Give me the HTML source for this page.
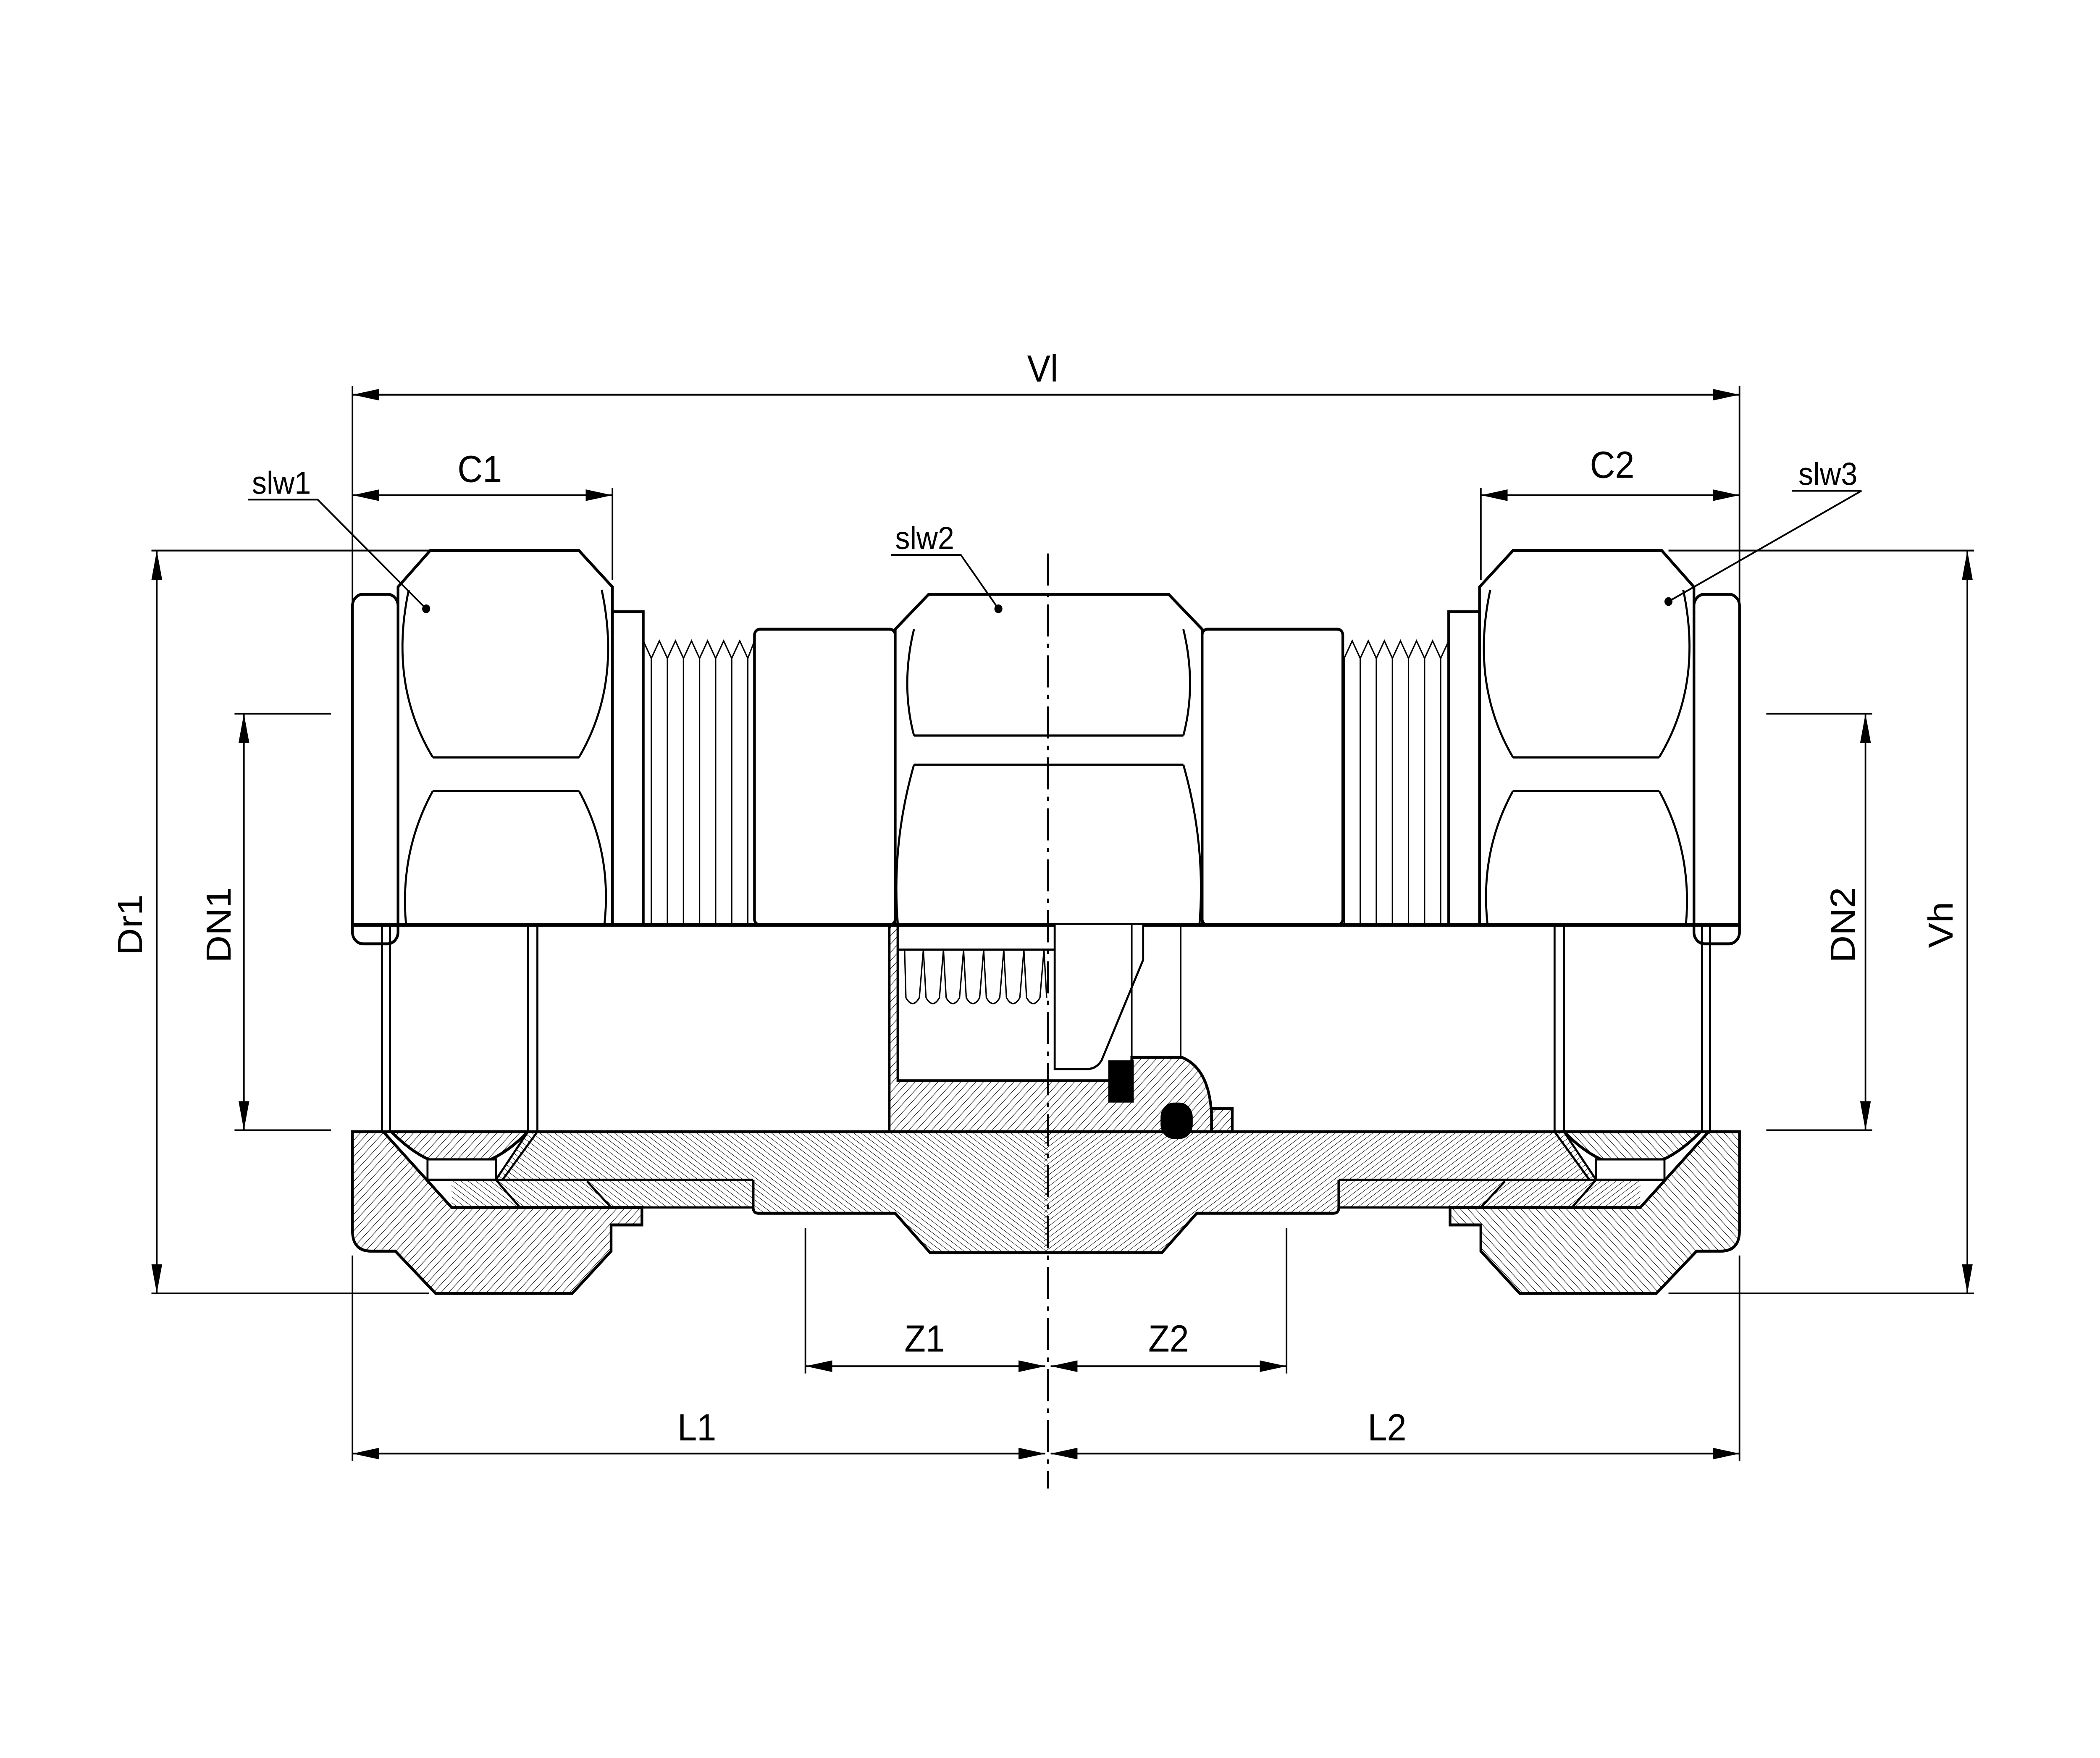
<!DOCTYPE html>
<html><head><meta charset="utf-8"><style>html,body{margin:0;padding:0;background:#fff;overflow:hidden}svg{display:block;width:100vw;height:100vh}</style></head>
<body>
<svg viewBox="0 0 1567 1207" preserveAspectRatio="none" xmlns="http://www.w3.org/2000/svg" font-family="Liberation Sans, sans-serif">
<defs>
<pattern id="h" width="4" height="4" patternUnits="userSpaceOnUse" patternTransform="rotate(45)"><line x1="0" y1="0" x2="0" y2="4" stroke="#000" stroke-width="0.7"/></pattern>
<pattern id="h2" width="3.2" height="3.2" patternUnits="userSpaceOnUse" patternTransform="rotate(-55)"><line x1="0" y1="0" x2="0" y2="4" stroke="#000" stroke-width="0.6"/></pattern>
<marker id="a" viewBox="0 0 20 8" refX="20" refY="4" markerWidth="20" markerHeight="8" markerUnits="userSpaceOnUse" orient="auto-start-reverse"><path d="M0,0 L20,4 L0,8 z" fill="#000"/></marker>
<g id="nutTop" fill="none" stroke="#000" stroke-width="2">
<rect x="263" y="408" width="34" height="240" rx="8"/>
<path d="M297,635 V403 L321,378 H432 L457,403 V635" fill="#fff"/>
<path d="M305,405 Q290,470 323,520 M449,405 Q464,470 432,520 M323,520 H432 M323,543 H432 M323,543 Q298,585 303,635 M432,543 Q457,585 451,635" stroke-width="1.5"/>
<rect x="457" y="420" width="23" height="215"/>
<path d="M480,440 L486,452 L492,440 L498,452 L504,440 L510,452 L516,440 L522,452 L528,440 L534,452 L540,440 L546,452 L552,440 L558,452 L563,440" stroke-width="1"/>
<path d="M486,452V635 M498,452V635 M510,452V635 M522,452V635 M534,452V635 M546,452V635 M558,452V635" stroke-width="1"/>
</g>
<g id="nutBot">
<path d="M394,777 H782 V860 H694 L668,833 H563 V810 H370 Z" fill="url(#h2)" stroke="none"/>
<path d="M337,810 H562 V829 H337 Z" fill="url(#h2)" stroke="none"/>
<path d="M263,777 V845 Q263,859 277,859 H295 L325,888 H427 L456,859 V841 H479 V829 H337 L286,777 Z" fill="url(#h)" stroke="#000" stroke-width="2"/>
<path d="M292,777 Q343,825 394,777 Z" fill="url(#h)" stroke="#000" stroke-width="2"/>
<rect x="319" y="796" width="51" height="14" fill="#fff" stroke="#000" stroke-width="1.5"/>
<path d="M319,810 H562 M319,811 L337,829 M370,810 L388,829 M438,811 L456,829 M562,810 V829 H479" fill="none" stroke="#000" stroke-width="1.5"/>
<path d="M394,777 L370,810 M401,777 L375,810" stroke="#000" stroke-width="1.5" fill="none"/>
<path d="M562,810 V829 Q562,833 566,833 H668 L694,860 H782" fill="none" stroke="#000" stroke-width="2"/>
<path d="M285,635V777 M291,635V777 M394,635V777 M401,635V777" stroke="#000" stroke-width="1.5"/>
</g>
</defs>
<rect width="1567" height="1207" fill="#fff"/>
<use href="#nutTop"/>
<use href="#nutTop" transform="translate(1561,0) scale(-1,1)"/>
<g fill="#fff" stroke="#000" stroke-width="2">
<rect x="563" y="432" width="105" height="203" rx="4"/>
<rect x="897" y="432" width="105" height="203" rx="4"/>
<path d="M668,635 V432 L693,408 H872 L897,432 V635"/>
</g>
<path d="M682,432 Q672,470 682,505 M883,432 Q893,470 883,505 M682,505 H883 M682,525 H883 M682,525 Q665,580 670,635 M883,525 Q900,580 895,635" fill="none" stroke="#000" stroke-width="1.5"/>
<use href="#nutBot"/>
<use href="#nutBot" transform="translate(1561,0) scale(-1,1)"/>
<line x1="263" y1="777" x2="1298" y2="777" stroke="#000" stroke-width="2"/>
<line x1="263" y1="635" x2="1298" y2="635" stroke="#000" stroke-width="2.5"/>
<path d="M663.5,635 V777 H904 L904,761 H919.5 V777 L904,777 Q906,735 882,726 H844.5 V742 H670 V635 Z" fill="url(#h)" stroke="#000" stroke-width="2"/>
<path d="M670,652 H787" stroke="#000" stroke-width="1.5"/>
<path d="M675,652 L676,685 Q681,693 686,685 L689,652 L691,685 Q696,693 701,685 L704,652 L706,685 Q711,693 716,685 L719,652 L721,685 Q726,693 731,685 L734,652 L736,685 Q741,693 746,685 L749,652 L751,685 Q756,693 761,685 L764,652 L766,685 Q771,693 776,685 L779,652 L781,685" fill="none" stroke="#000" stroke-width="1"/>
<path d="M787,635 V734 H811 Q818,734 822,728 L853,659 V635" fill="#fff" stroke="#000" stroke-width="1.5"/>
<path d="M844.5,635 V726 M881,635 V726" stroke="#000" stroke-width="1.2"/>
<rect x="827" y="728" width="19" height="29" fill="#000"/>
<rect x="866" y="757" width="24" height="25" rx="10" fill="#000"/>
<path d="M782,380 V1022" stroke="#000" stroke-width="1.5" stroke-dasharray="22,5,3,5"/>
<g stroke="#000" stroke-width="1.2" fill="none">
<path d="M263,265 V640 M1298,265 V640 M263,862 V1003 M1298,862 V1003 M457,335 V398 M1105,335 V398"/>
<path d="M113,378 H320 M113,888 H320 M1245,378 H1473 M1245,888 H1473"/>
<path d="M175,490 H247 M175,776 H247 M1318,490 H1397 M1318,776 H1397"/>
<path d="M601,843 V943 M960,843 V943"/>
<line x1="263" y1="271" x2="1298" y2="271" marker-start="url(#a)" marker-end="url(#a)"/>
<line x1="263" y1="340" x2="457" y2="340" marker-start="url(#a)" marker-end="url(#a)"/>
<line x1="1105" y1="340" x2="1298" y2="340" marker-start="url(#a)" marker-end="url(#a)"/>
<line x1="117" y1="378" x2="117" y2="888" marker-start="url(#a)" marker-end="url(#a)"/>
<line x1="182" y1="490" x2="182" y2="776" marker-start="url(#a)" marker-end="url(#a)"/>
<line x1="1392" y1="490" x2="1392" y2="776" marker-start="url(#a)" marker-end="url(#a)"/>
<line x1="1468" y1="378" x2="1468" y2="888" marker-start="url(#a)" marker-end="url(#a)"/>
<line x1="601" y1="938" x2="780" y2="938" marker-start="url(#a)" marker-end="url(#a)"/>
<line x1="784" y1="938" x2="960" y2="938" marker-start="url(#a)" marker-end="url(#a)"/>
<line x1="263" y1="998" x2="780" y2="998" marker-start="url(#a)" marker-end="url(#a)"/>
<line x1="784" y1="998" x2="1298" y2="998" marker-start="url(#a)" marker-end="url(#a)"/>
<path d="M185,343 H237 L318,418 M665,381 H717 L745,418 M1337,337 H1389 L1245,413"/>
</g>
<circle cx="318" cy="418" r="3" fill="#000"/><circle cx="745" cy="418" r="3" fill="#000"/><circle cx="1245" cy="413" r="3" fill="#000"/>
<g font-size="26" text-anchor="middle" fill="#000">
<text x="778" y="262">Vl</text>
<text x="358" y="331">C1</text>
<text x="1203" y="328">C2</text>
<text x="690" y="928">Z1</text>
<text x="872" y="928">Z2</text>
<text x="520" y="989">L1</text>
<text x="1035" y="989">L2</text>
<text transform="translate(106,635) rotate(-90)">Dr1</text>
<text transform="translate(172,635) rotate(-90)">DN1</text>
<text transform="translate(1384,635) rotate(-90)">DN2</text>
<text transform="translate(1457,635) rotate(-90)">Vh</text>
</g>
<g font-size="22" text-anchor="middle" fill="#000">
<text x="210" y="339">slw1</text>
<text x="690" y="377">slw2</text>
<text x="1364" y="333">slw3</text>
</g>
</svg>
</body></html>
